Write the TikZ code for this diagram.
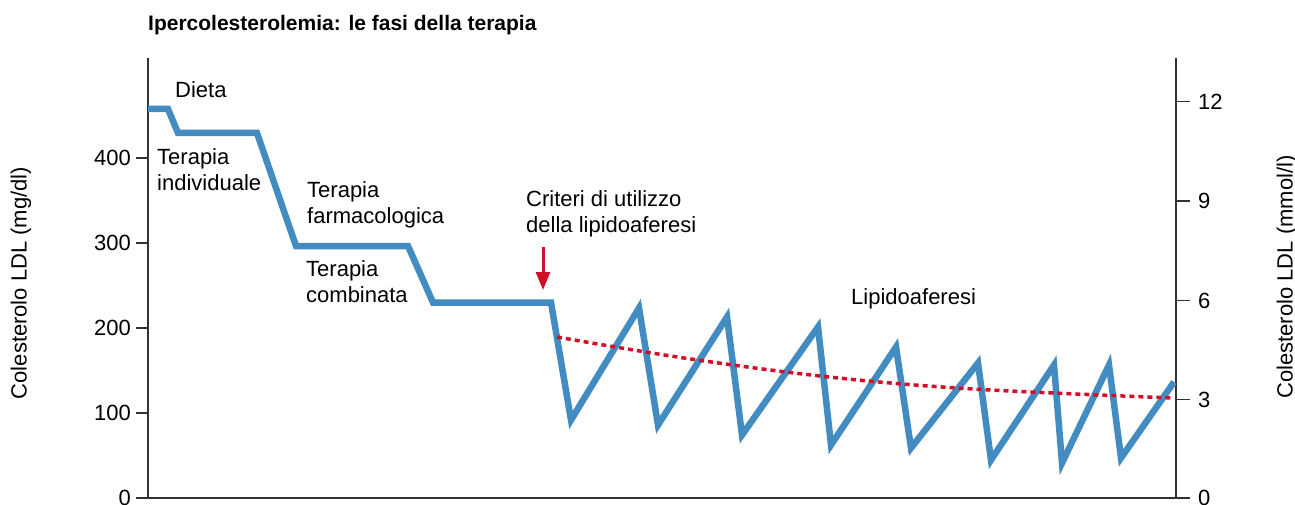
\documentclass[tikz,border=0pt]{standalone}
\usepackage{fontspec}
\setmainfont{Liberation Sans}
\usetikzlibrary{arrows.meta}
\definecolor{ldlblue}{RGB}{66,140,194}
\definecolor{ldlred}{RGB}{208,16,40}

\begin{document}
\begin{tikzpicture}[x=1pt,y=-1pt]
    \tikzset{
      axisline/.style={draw=black!80, line width=1.5pt},
      phase/.style={font=\fontsize{22}{26}\selectfont, inner sep=0pt, anchor=base west, align=left},
      ticklabel/.style={font=\fontsize{22}{26}\selectfont, inner sep=0pt},
      ldl/.style={draw=ldlblue, line width=6.5pt, line join=miter},
      trend/.style={draw=ldlred, line width=3.5pt, dash pattern=on 5pt off 4pt},
      edge/.style={-{Triangle[width=14pt,length=18pt]}, draw=ldlred, fill=ldlred, line width=3pt}
    }
    \useasboundingbox (0,0) rectangle (1295,505);

    % axes
    \draw[axisline] (148,58) -- (148,498) -- (1176,498) -- (1176,58);
    \draw[axisline] (136,498) -- (148,498);
    \draw[axisline] (136,413) -- (148,413);
    \draw[axisline] (136,328) -- (148,328);
    \draw[axisline] (136,243) -- (148,243);
    \draw[axisline] (136,158) -- (148,158);
    \draw[axisline] (1176,498) -- (1190,498);
    \draw[axisline] (1176,399.5) -- (1190,399.5);
    \draw[axisline] (1176,300.5) -- (1190,300.5);
    \draw[axisline] (1176,201) -- (1190,201);
    \draw[axisline] (1176,101.5) -- (1190,101.5);

    % tick labels
    \node[ticklabel, anchor=east] (l0) at (131,498) {0};
    \node[ticklabel, anchor=east] (l100) at (131,413) {100};
    \node[ticklabel, anchor=east] (l200) at (131,328) {200};
    \node[ticklabel, anchor=east] (l300) at (131,243) {300};
    \node[ticklabel, anchor=east] (l400) at (131,158) {400};
    \node[ticklabel, anchor=west] (r0) at (1198,498) {0};
    \node[ticklabel, anchor=west] (r3) at (1198,399.5) {3};
    \node[ticklabel, anchor=west] (r6) at (1198,300.5) {6};
    \node[ticklabel, anchor=west] (r9) at (1198,201) {9};
    \node[ticklabel, anchor=west] (r12) at (1198,101.5) {12};
    \node[ticklabel, rotate=90] (ylabL) at (21,283) {Colesterolo LDL (mg/dl)};
    \node[ticklabel, rotate=90] (ylabR) at (1287,277) {Colesterolo LDL (mmol/l)};

    % LDL curve
    \draw[ldl] (148,109) -- (168,109) -- (178,133) -- (257,133) -- (296,246)
      -- (408,246) -- (433,302.5) -- (551,302.5) -- (571,420) -- (639,308)
      -- (658,425) -- (727,317) -- (742,435) -- (818,327) -- (831,445)
      -- (896,347) -- (911,448) -- (978,363) -- (991,460) -- (1054,365)
      -- (1062,463) -- (1109,365) -- (1121,458) -- (1174,382);
    \draw[trend] plot[smooth, tension=0.6] coordinates
      {(557,337) (684,358) (829,377) (973,389) (1173,398)};

    % labels
    \node[phase] (title) at (148,31) {\fontsize{21}{26}\selectfont\bfseries Ipercolesterolemia: le fasi della terapia};
    \node[phase] (dieta) at (175,98) {Dieta};
    \node[phase] (indiv) at (157,191) {Terapia\\individuale};
    \node[phase] (farmaco) at (307,223) {Terapia\\farmacologica};
    \node[phase] (combin) at (306,302) {Terapia\\combinata};
    \node[phase] (criteri) at (526,233) {Criteri di utilizzo\\della lipidoaferesi};
    \node[phase] (lipido) at (851,304) {Lipidoaferesi};

    % arrow
    \coordinate (arrtop) at (543,247);
    \coordinate (arrtip) at (543,290);
    \draw[edge] (arrtop) -- (arrtip);
\end{tikzpicture}
\end{document}
